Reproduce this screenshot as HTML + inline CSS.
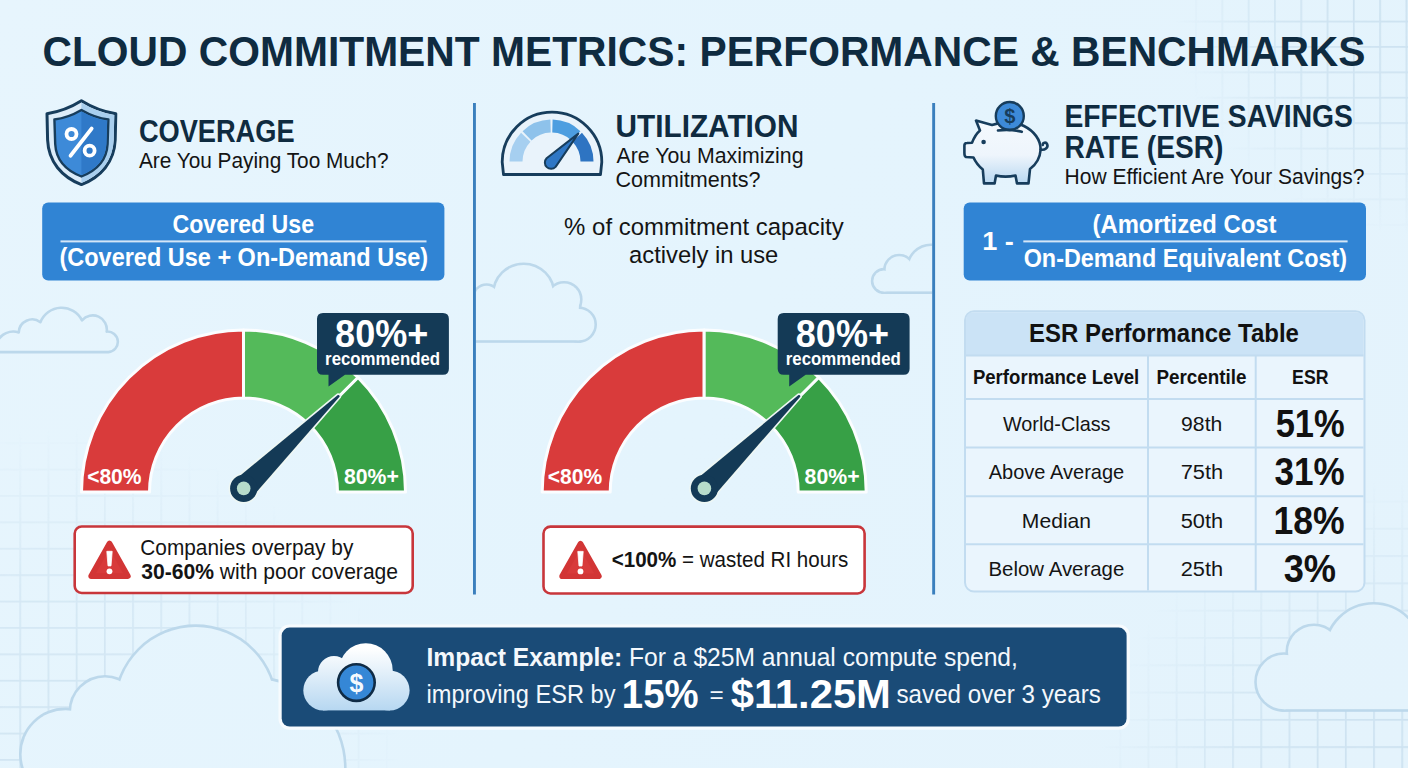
<!DOCTYPE html>
<html><head><meta charset="utf-8"><title>Cloud Commitment Metrics: Performance &amp; Benchmarks</title>
<style>html,body{margin:0;padding:0;background:#e3f3fc;}svg{display:block}</style></head>
<body><svg width="1408" height="768" viewBox="0 0 1408 768" font-family='"Liberation Sans", Arial, sans-serif'><defs>
<linearGradient id="bg" gradientUnits="userSpaceOnUse" x1="0" y1="0" x2="1408" y2="768"><stop offset="0" stop-color="#e7f5fd"/><stop offset="0.5" stop-color="#e4f4fd"/><stop offset="1" stop-color="#e4f3fc"/></linearGradient>
<pattern id="gBL" width="28.2" height="26.4" patternUnits="userSpaceOnUse" x="19.349999999999998" y="19.849999999999998"><path d="M0.85,0 V26.4 M0,0.85 H28.2" fill="none" stroke="#c6dded" stroke-width="1.7"/></pattern>
<radialGradient id="gBLf" gradientUnits="userSpaceOnUse" cx="60" cy="768" r="340"><stop offset="0" stop-color="#fff" stop-opacity="0.7"/><stop offset="0.55" stop-color="#fff" stop-opacity="0.5249999999999999"/><stop offset="1" stop-color="#fff" stop-opacity="0"/></radialGradient>
<mask id="gBLm"><rect width="1408" height="768" fill="url(#gBLf)"/></mask>
<pattern id="gBR" width="28.2" height="27.3" patternUnits="userSpaceOnUse" x="19.549999999999997" y="9.15"><path d="M0.85,0 V27.3 M0,0.85 H28.2" fill="none" stroke="#c6dded" stroke-width="1.7"/></pattern>
<radialGradient id="gBRf" gradientUnits="userSpaceOnUse" cx="1408" cy="790" r="310"><stop offset="0" stop-color="#fff" stop-opacity="0.85"/><stop offset="0.55" stop-color="#fff" stop-opacity="0.6375"/><stop offset="1" stop-color="#fff" stop-opacity="0"/></radialGradient>
<mask id="gBRm"><rect width="1408" height="768" fill="url(#gBRf)"/></mask>
<pattern id="gTR" width="26.3" height="25.4" patternUnits="userSpaceOnUse" x="11.65" y="20.65"><path d="M0.85,0 V25.4 M0,0.85 H26.3" fill="none" stroke="#c6dded" stroke-width="1.7"/></pattern>
<radialGradient id="gTRf" gradientUnits="userSpaceOnUse" cx="1408" cy="0" r="235"><stop offset="0" stop-color="#fff" stop-opacity="0.85"/><stop offset="0.55" stop-color="#fff" stop-opacity="0.6375"/><stop offset="1" stop-color="#fff" stop-opacity="0"/></radialGradient>
<mask id="gTRm"><rect width="1408" height="768" fill="url(#gTRf)"/></mask>
<linearGradient id="cloudG" gradientUnits="userSpaceOnUse" x1="0" y1="648" x2="0" y2="711"><stop offset="0" stop-color="#ffffff"/><stop offset="1" stop-color="#b6d7f1"/></linearGradient>
<linearGradient id="pigG" x1="0" y1="0" x2="0" y2="1"><stop offset="0" stop-color="#f4f9fd"/><stop offset="0.55" stop-color="#eef5fc"/><stop offset="1" stop-color="#b9d8f1"/></linearGradient>
</defs>
<rect width="1408" height="768" fill="url(#bg)"/>
<rect width="1408" height="768" fill="url(#gBL)" mask="url(#gBLm)"/>
<rect width="1408" height="768" fill="url(#gBR)" mask="url(#gBRm)"/>
<rect width="1408" height="768" fill="url(#gTR)" mask="url(#gTRm)"/>
<clipPath id="col2"><rect x="476" y="0" width="456.2" height="768"/></clipPath>
<path d="M-3,352.1 L-3,342 A18,18 0 0 1 18.75,332.4 A13.5,13.5 0 0 1 40.4,322.2 A22.75,22.75 0 0 1 82,320.4 A14.1,14.1 0 0 1 106.7,331.6 A10.2,10.2 0 1 1 108.4,352.1 Z" fill="url(#bg)" stroke="#bcd8eb" stroke-width="2.6" stroke-linejoin="round"/>
<g clip-path="url(#col2)"><g stroke="#bcd8eb" stroke-width="5.2" fill="url(#bg)"><circle cx="486.5" cy="297.8" r="12"/><circle cx="523.7" cy="294.4" r="29.4"/><circle cx="564" cy="299.5" r="16"/><circle cx="578.8" cy="324.6" r="15.6"/><rect x="470" y="297" width="108.8" height="43.2" rx="0"/></g><g fill="url(#bg)" stroke="none"><circle cx="486.5" cy="297.8" r="12"/><circle cx="523.7" cy="294.4" r="29.4"/><circle cx="564" cy="299.5" r="16"/><circle cx="578.8" cy="324.6" r="15.6"/><rect x="470" y="297" width="108.8" height="43.2" rx="0"/></g></g>
<g clip-path="url(#col2)"><g stroke="#bcd8eb" stroke-width="5.2" fill="url(#bg)"><circle cx="883.9" cy="280.9" r="10.5"/><circle cx="899.2" cy="269.8" r="13.5"/><circle cx="931" cy="268.3" r="22.3"/><rect x="883.9" y="272" width="60" height="19.4" rx="0"/></g><g fill="url(#bg)" stroke="none"><circle cx="883.9" cy="280.9" r="10.5"/><circle cx="899.2" cy="269.8" r="13.5"/><circle cx="931" cy="268.3" r="22.3"/><rect x="883.9" y="272" width="60" height="19.4" rx="0"/></g></g>
<g><g stroke="#bcd8eb" stroke-width="5.2" fill="url(#bg)"><circle cx="65.6" cy="754.2" r="44"/><circle cx="105" cy="711.5" r="33.9"/><circle cx="195.7" cy="706.5" r="79.6"/><circle cx="255.2" cy="768" r="88.8"/><rect x="60" y="720" width="250" height="60" rx="0"/></g><g fill="url(#bg)" stroke="none"><circle cx="65.6" cy="754.2" r="44"/><circle cx="105" cy="711.5" r="33.9"/><circle cx="195.7" cy="706.5" r="79.6"/><circle cx="255.2" cy="768" r="88.8"/><rect x="60" y="720" width="250" height="60" rx="0"/></g></g>
<g><g stroke="#bcd8eb" stroke-width="5.2" fill="url(#bg)"><circle cx="1284" cy="682" r="27.2"/><circle cx="1314" cy="652" r="26"/><circle cx="1373.5" cy="652" r="47.5"/><circle cx="1420" cy="660" r="40"/><rect x="1284" y="668" width="200" height="41.2" rx="0"/></g><g fill="url(#bg)" stroke="none"><circle cx="1284" cy="682" r="27.2"/><circle cx="1314" cy="652" r="26"/><circle cx="1373.5" cy="652" r="47.5"/><circle cx="1420" cy="660" r="40"/><rect x="1284" y="668" width="200" height="41.2" rx="0"/></g></g>
<text x="42.5" y="65.8" font-size="42.4" font-weight="700" fill="#0f2b40" textLength="1323" lengthAdjust="spacingAndGlyphs">CLOUD COMMITMENT METRICS: PERFORMANCE &amp; BENCHMARKS</text>
<rect x="473" y="103" width="2.9" height="491.5" fill="#3a7fbd"/>
<rect x="932.2" y="103" width="2.9" height="491.5" fill="#3a7fbd"/>
<text x="138.91" y="141.6" font-size="31.3" font-weight="700" fill="#0f2b40" textLength="155.61" lengthAdjust="spacingAndGlyphs">COVERAGE</text>
<text x="138.9" y="167.9" font-size="21.9" font-weight="400" fill="#141414" textLength="249.6" lengthAdjust="spacingAndGlyphs">Are You Paying Too Much?</text>
<text x="615.49" y="137" font-size="31.3" font-weight="700" fill="#0f2b40" textLength="183.02" lengthAdjust="spacingAndGlyphs">UTILIZATION</text>
<text x="616.5" y="162.7" font-size="21.9" font-weight="400" fill="#141414" textLength="186.99" lengthAdjust="spacingAndGlyphs">Are You Maximizing</text>
<text x="615.51" y="186.7" font-size="21.9" font-weight="400" fill="#141414" textLength="144.99" lengthAdjust="spacingAndGlyphs">Commitments?</text>
<text x="1064.5" y="126.8" font-size="31.3" font-weight="700" fill="#0f2b40" textLength="288.41" lengthAdjust="spacingAndGlyphs">EFFECTIVE SAVINGS</text>
<text x="1064.5" y="158.2" font-size="31.3" font-weight="700" fill="#0f2b40" textLength="159" lengthAdjust="spacingAndGlyphs">RATE (ESR)</text>
<text x="1064.51" y="184.3" font-size="21.9" font-weight="400" fill="#141414" textLength="299.99" lengthAdjust="spacingAndGlyphs">How Efficient Are Your Savings?</text>
<g><path d="M81.4,100.8 C70,108 58,112 47,113.8 L47.6,140 C48.5,162 62,177 81.4,184.6 C100.8,177 114.3,162 115.2,140 L115.8,113.8 C104.8,112 92.8,108 81.4,100.8 Z" fill="#dcecf9" stroke="#173d5c" stroke-width="3" stroke-linejoin="round"/><path d="M81.4,102.5 C92.8,109.5 104.8,113.5 114.3,115 L113.7,140 C112.8,161 100,175.5 81.4,183 Z" fill="#a9cfee"/><path d="M81.4,110 C72,115.5 63,118.5 54.4,119.5 L55.2,144 C56,160 66,170.5 81.4,176.5 C96.8,170.5 106.8,160 107.6,144 L108.4,119.5 C99.8,118.5 90.8,115.5 81.4,110 Z" fill="#3d8ad8" stroke="#173d5c" stroke-width="2.4" stroke-linejoin="round"/><path d="M81.4,111.5 C90.8,116.8 99.4,119.8 107.2,120.8 L106.4,144 C105.6,159 96.5,169 81.4,175 Z" fill="#2f79c8"/><circle cx="71.5" cy="134" r="5" fill="none" stroke="#fff" stroke-width="3.8"/><circle cx="89.6" cy="150.7" r="5" fill="none" stroke="#fff" stroke-width="3.8"/><path d="M91.6,128.6 L70.6,155.6" stroke="#fff" stroke-width="3.9" stroke-linecap="round"/></g>
<g><path d="M503.5,174.5 L502.2,162 A49.8,49.8 0 0 1 601.8,162 L600.5,174.5 Z" fill="#e9f3fb" stroke="#173d5c" stroke-width="2.8" stroke-linejoin="round"/><path d="M509.5,161.6 A42,42 0 0 1 521.03,132.69 L530.46,141.64 A29,29 0 0 0 522.5,161.6 Z" fill="#a6cff0"/><path d="M522.59,131.13 A42,42 0 0 1 550.4,119.61 L550.74,132.61 A29,29 0 0 0 531.54,140.56 Z" fill="#8ec2eb"/><path d="M552.6,119.61 A42,42 0 0 1 580.41,131.13 L571.46,140.56 A29,29 0 0 0 552.26,132.61 Z" fill="#4d9ee0"/><path d="M581.97,132.69 A42,42 0 0 1 593.5,161.6 L580.5,161.6 A29,29 0 0 0 572.54,141.64 Z" fill="#2e74c2"/><path d="M546.6,158.3 L578.3,133.6 L555.6,166.9 A6.2,6.2 0 1 1 546.6,158.3 Z" fill="#2f77c5" stroke="#173d5c" stroke-width="2" stroke-linejoin="round"/></g>
<g stroke="#173d5c" stroke-width="2.6" stroke-linejoin="round" stroke-linecap="round"><path d="M976,120.6 L992,125 C1002,121.5 1016,122 1024,126 C1034,131 1041,140 1040.6,150 C1040,158 1036,164.5 1030,169 L1028.5,183.4 L1017,183.4 L1015.5,175.5 C1009,177 1002,177 996,175.5 L994.6,183.4 L984,183.4 L982.8,169.5 C978.5,166 975.5,162 973.5,157.5 L966,157 C964.8,156.5 964.4,155 964.4,153 L964.4,145.5 C964.4,143.7 965.3,143 967,143 L972,142.8 C974,137.5 976.5,133.5 980,130.5 Z" fill="url(#pigG)"/><path d="M1040.5,149.5 C1045,150.5 1048.5,147.5 1047.2,144.2 C1046,141.5 1042.5,142.5 1042.8,145" fill="none"/></g>
<circle cx="983.6" cy="142" r="2.3" fill="#173d5c"/>
<circle cx="1009.8" cy="116" r="14" fill="#3d8ad8" stroke="#173d5c" stroke-width="2.4"/>
<text x="1009.8" y="123" font-size="20" font-weight="700" fill="#173d5c" text-anchor="middle">$</text>
<path d="M998,130.5 C1005,129.5 1014,129.8 1021.8,131.8" fill="none" stroke="#173d5c" stroke-width="2.6" stroke-linecap="round"/>
<rect x="42.2" y="202.6" width="402.2" height="77.9" rx="6" fill="#3084d4"/>
<text x="172.51" y="232.9" font-size="25.8" font-weight="700" fill="#fff" textLength="141.59" lengthAdjust="spacingAndGlyphs">Covered Use</text>
<rect x="60.5" y="240.4" width="366" height="2" fill="#d4e6f7"/>
<text x="59.5" y="265.9" font-size="25.8" font-weight="700" fill="#fff" textLength="368.6" lengthAdjust="spacingAndGlyphs">(Covered Use + On-Demand Use)</text>
<rect x="963.7" y="202.6" width="402.3" height="77.9" rx="6" fill="#3084d4"/>
<text x="982.27" y="250" font-size="25" font-weight="700" fill="#fff" textLength="31.64" lengthAdjust="spacingAndGlyphs">1 -</text>
<text x="1092.51" y="233.2" font-size="25.8" font-weight="700" fill="#fff" textLength="183.99" lengthAdjust="spacingAndGlyphs">(Amortized Cost</text>
<rect x="1023.3" y="240.4" width="324.3" height="2" fill="#d4e6f7"/>
<text x="1023.7" y="266.8" font-size="25.8" font-weight="700" fill="#fff" textLength="323.39" lengthAdjust="spacingAndGlyphs">On-Demand Equivalent Cost)</text>
<text x="564.11" y="235.4" font-size="24.5" font-weight="400" fill="#141414" textLength="279.6" lengthAdjust="spacingAndGlyphs">% of commitment capacity</text>
<text x="629.1" y="262.7" font-size="24.5" font-weight="400" fill="#141414" textLength="149.2" lengthAdjust="spacingAndGlyphs">actively in use</text>
<g stroke="#fbfdff" stroke-width="3" stroke-linejoin="round"><path d="M81.5,492 A162,162 0 0 1 243.5,330 L243.5,398 A94,94 0 0 0 149.5,492 Z" fill="#d93b3b"/><path d="M243.5,330 A162,162 0 0 1 358.05,377.45 L309.97,425.53 A94,94 0 0 0 243.5,398 Z" fill="#54ba5a"/><path d="M358.05,377.45 A162,162 0 0 1 405.5,492 L337.5,492 A94,94 0 0 0 309.97,425.53 Z" fill="#37a046"/></g>
<text x="87.13" y="483.8" font-size="21.2" font-weight="700" fill="#fff" textLength="54.37" lengthAdjust="spacingAndGlyphs">&lt;80%</text>
<text x="343.91" y="483.8" font-size="21.2" font-weight="700" fill="#fff" textLength="54.96" lengthAdjust="spacingAndGlyphs">80%+</text>
<g><path d="M252.22,497.14 L339.54,396.66 Q339.77,394.75 337.86,394.94 L235.18,479.66 Z" fill="#eef7f4" stroke="#eef7f4" stroke-width="3.4" stroke-linejoin="round"/><circle cx="243.7" cy="488.4" r="15.2" fill="#eef7f4"/><path d="M252.22,497.14 L339.54,396.66 Q339.77,394.75 337.86,394.94 L235.18,479.66 Z" fill="#143a56"/><circle cx="243.7" cy="488.4" r="13.6" fill="#143a56"/><circle cx="243.7" cy="488.4" r="6.8" fill="#b7dccb"/></g>
<path d="M323,313 H442.9 Q448.9,313 448.9,319 V368.7 Q448.9,374.7 442.9,374.7 H345 L328.5,386.5 L328.5,374.7 H323 Q317,374.7 317,368.7 V319 Q317,313 323,313 Z" fill="#143a56"/>
<text x="335.1" y="347.2" font-size="39" font-weight="700" fill="#fff" textLength="93.17" lengthAdjust="spacingAndGlyphs">80%+</text>
<text x="325.09" y="365.4" font-size="18.1" font-weight="700" fill="#fff" textLength="114.99" lengthAdjust="spacingAndGlyphs">recommended</text>
<g stroke="#fbfdff" stroke-width="3" stroke-linejoin="round"><path d="M542.2,492 A162,162 0 0 1 704.2,330 L704.2,398 A94,94 0 0 0 610.2,492 Z" fill="#d93b3b"/><path d="M704.2,330 A162,162 0 0 1 818.75,377.45 L770.67,425.53 A94,94 0 0 0 704.2,398 Z" fill="#54ba5a"/><path d="M818.75,377.45 A162,162 0 0 1 866.2,492 L798.2,492 A94,94 0 0 0 770.67,425.53 Z" fill="#37a046"/></g>
<text x="547.83" y="483.8" font-size="21.2" font-weight="700" fill="#fff" textLength="54.37" lengthAdjust="spacingAndGlyphs">&lt;80%</text>
<text x="804.61" y="483.8" font-size="21.2" font-weight="700" fill="#fff" textLength="54.96" lengthAdjust="spacingAndGlyphs">80%+</text>
<g><path d="M712.92,497.14 L800.24,396.66 Q800.47,394.75 798.56,394.94 L695.88,479.66 Z" fill="#eef7f4" stroke="#eef7f4" stroke-width="3.4" stroke-linejoin="round"/><circle cx="704.4" cy="488.4" r="15.2" fill="#eef7f4"/><path d="M712.92,497.14 L800.24,396.66 Q800.47,394.75 798.56,394.94 L695.88,479.66 Z" fill="#143a56"/><circle cx="704.4" cy="488.4" r="13.6" fill="#143a56"/><circle cx="704.4" cy="488.4" r="6.8" fill="#b7dccb"/></g>
<path d="M783.7,313 H903.6 Q909.6,313 909.6,319 V368.7 Q909.6,374.7 903.6,374.7 H805.7 L789.2,386.5 L789.2,374.7 H783.7 Q777.7,374.7 777.7,368.7 V319 Q777.7,313 783.7,313 Z" fill="#143a56"/>
<text x="795.8" y="347.2" font-size="39" font-weight="700" fill="#fff" textLength="93.17" lengthAdjust="spacingAndGlyphs">80%+</text>
<text x="785.79" y="365.4" font-size="18.1" font-weight="700" fill="#fff" textLength="114.99" lengthAdjust="spacingAndGlyphs">recommended</text>
<rect x="74.7" y="526.5" width="338" height="66.5" rx="7" fill="#fff" stroke="#c8363b" stroke-width="2.6"/>
<path d="M109.5,543.5 L127.9,576.1 L91.1,576.1 Z" fill="#d83a3a" stroke="#d23535" stroke-width="5.6" stroke-linejoin="round"/>
<path d="M106.8,551.3 L112.2,551.3 L111,565.9 L108,565.9 Z" fill="#fff" stroke="#fff" stroke-width="0.8" stroke-linejoin="round"/>
<circle cx="109.5" cy="571.3" r="2.9" fill="#fff"/>
<text x="140.3" y="554.6" font-size="21.9" font-weight="400" fill="#141414" textLength="213" lengthAdjust="spacingAndGlyphs">Companies overpay by</text>
<text x="141.3" y="579" font-size="21.9" font-weight="400" fill="#141414" textLength="256.79" lengthAdjust="spacingAndGlyphs"><tspan font-weight="700">30-60%</tspan> with poor coverage</text>
<rect x="543.5" y="526.6" width="321.1" height="66.9" rx="7" fill="#fff" stroke="#c8363b" stroke-width="2.6"/>
<path d="M580.5,543.6 L598.9,576.2 L562.1,576.2 Z" fill="#d83a3a" stroke="#d23535" stroke-width="5.6" stroke-linejoin="round"/>
<path d="M577.8,551.4 L583.2,551.4 L582,566 L579,566 Z" fill="#fff" stroke="#fff" stroke-width="0.8" stroke-linejoin="round"/>
<circle cx="580.5" cy="571.4" r="2.9" fill="#fff"/>
<text x="611.7" y="566.9" font-size="21.9" font-weight="400" fill="#141414" textLength="236.59" lengthAdjust="spacingAndGlyphs"><tspan font-weight="700">&lt;100%</tspan> = wasted RI hours</text>
<rect x="965" y="311.3" width="399.5" height="280.2" rx="9" fill="#eaf5fd" stroke="#c2dcf0" stroke-width="2"/>
<path d="M966,320.3 Q966,312.3 974,312.3 H1355.5 Q1363.5,312.3 1363.5,320.3 V355.5 H966 Z" fill="#cbe3f6"/>
<text x="1029.1" y="342.4" font-size="26.2" font-weight="700" fill="#111" textLength="269.8" lengthAdjust="spacingAndGlyphs">ESR Performance Table</text>
<g stroke="#c2dcf0" stroke-width="2"><path d="M966,355.5 H1363.5"/><path d="M966,399 H1363.5"/><path d="M966,447.5 H1363.5"/><path d="M966,496.3 H1363.5"/><path d="M966,544.3 H1363.5"/><path d="M1148,355.5 V590.5"/><path d="M1255.7,355.5 V590.5"/></g>
<text x="972.89" y="384.1" font-size="20.1" font-weight="700" fill="#111" textLength="166.39" lengthAdjust="spacingAndGlyphs">Performance Level</text>
<text x="1156.52" y="384.1" font-size="20.1" font-weight="700" fill="#111" textLength="89.98" lengthAdjust="spacingAndGlyphs">Percentile</text>
<text x="1292.11" y="384.1" font-size="20.1" font-weight="700" fill="#111" textLength="36.39" lengthAdjust="spacingAndGlyphs">ESR</text>
<text x="1002.91" y="430.7" font-size="20.9" font-weight="400" fill="#141414" textLength="107.58" lengthAdjust="spacingAndGlyphs">World-Class</text>
<text x="1181.11" y="430.7" font-size="20.9" font-weight="400" fill="#141414" textLength="41.17" lengthAdjust="spacingAndGlyphs">98th</text>
<text x="1275.71" y="436.8" font-size="38" font-weight="700" fill="#111" textLength="68.97" lengthAdjust="spacingAndGlyphs">51%</text>
<text x="988.7" y="479.2" font-size="20.9" font-weight="400" fill="#141414" textLength="135.58" lengthAdjust="spacingAndGlyphs">Above Average</text>
<text x="1180.67" y="479.2" font-size="20.9" font-weight="400" fill="#141414" textLength="42.45" lengthAdjust="spacingAndGlyphs">75th</text>
<text x="1274.5" y="485.3" font-size="38" font-weight="700" fill="#111" textLength="70.17" lengthAdjust="spacingAndGlyphs">31%</text>
<text x="1021.89" y="527.7" font-size="20.9" font-weight="400" fill="#141414" textLength="69.22" lengthAdjust="spacingAndGlyphs">Median</text>
<text x="1180.67" y="527.7" font-size="20.9" font-weight="400" fill="#141414" textLength="42.45" lengthAdjust="spacingAndGlyphs">50th</text>
<text x="1273.49" y="533.8" font-size="38" font-weight="700" fill="#111" textLength="71.23" lengthAdjust="spacingAndGlyphs">18%</text>
<text x="988.51" y="576.2" font-size="20.9" font-weight="400" fill="#141414" textLength="135.79" lengthAdjust="spacingAndGlyphs">Below Average</text>
<text x="1180.67" y="576.2" font-size="20.9" font-weight="400" fill="#141414" textLength="42.45" lengthAdjust="spacingAndGlyphs">25th</text>
<text x="1283.7" y="582.3" font-size="38" font-weight="700" fill="#111" textLength="52.39" lengthAdjust="spacingAndGlyphs">3%</text>
<rect x="278.5" y="624.4" width="851.3" height="105.4" rx="11" fill="#f7fbfe"/>
<rect x="281.7" y="627.6" width="844.9" height="99" rx="8" fill="#1a4b77"/>
<g fill="url(#cloudG)"><circle cx="323.3" cy="690.4" r="20"/><circle cx="334" cy="672" r="16"/><circle cx="365.8" cy="670.2" r="26.9"/><circle cx="389.6" cy="690.4" r="20"/><rect x="323" y="676" width="67" height="34.4"/></g>
<circle cx="356.4" cy="682.6" r="18.3" fill="#3587d6" stroke="#0f2b45" stroke-width="2.6"/>
<text x="356.4" y="692" font-size="25" font-weight="700" fill="#f4f9fd" text-anchor="middle">$</text>
<text x="426.5" y="666" font-size="25.8" font-weight="400" fill="#f4f8fc" textLength="591.41" lengthAdjust="spacingAndGlyphs"><tspan font-weight="700">Impact Example:</tspan> For a $25M annual compute spend,</text>
<text x="426.5" y="702.9" font-size="25.8" font-weight="400" fill="#f4f8fc" textLength="188.99" lengthAdjust="spacingAndGlyphs">improving ESR by</text>
<text x="621.86" y="707.8" font-size="41.5" font-weight="700" fill="#fff" textLength="76.68" lengthAdjust="spacingAndGlyphs">15%</text>
<text x="709.4" y="702.9" font-size="24.3" font-weight="400" fill="#f4f8fc" text-anchor="start">=</text>
<text x="730.69" y="708.4" font-size="41.5" font-weight="700" fill="#fff" textLength="160.22" lengthAdjust="spacingAndGlyphs">$11.25M</text>
<text x="896.5" y="702.9" font-size="25.8" font-weight="400" fill="#f4f8fc" textLength="204.38" lengthAdjust="spacingAndGlyphs">saved over 3 years</text></svg></body></html>
